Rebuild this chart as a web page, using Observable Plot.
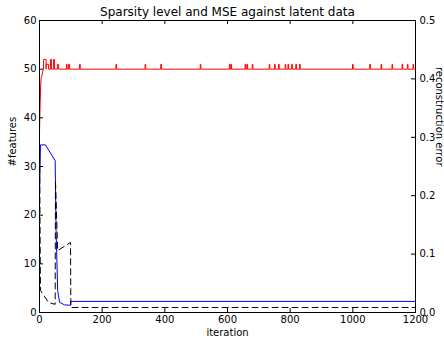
<!DOCTYPE html>
<html><head><meta charset="utf-8">
<script src="https://cdn.jsdelivr.net/npm/d3@7"></script>
<script src="https://cdn.jsdelivr.net/npm/@observablehq/plot@0.6"></script>
<style>html,body{margin:0;padding:0;background:#fff;overflow:hidden} svg{font-family:"DejaVu Sans",sans-serif}</style>
</head><body><div id="chart"></div><script>
// ---- data ----
const title = "Sparsity level and MSE against latent data";
const xLabel = "iteration";
const yLabelLeft = "#features";
const yLabelRight = "reconstruction error";
const xTicks = [0, 200, 400, 600, 800, 1000, 1200];
const yTicksLeft = [0, 10, 20, 30, 40, 50, 60];
const yTicksRight = [0.0, 0.1, 0.2, 0.3, 0.4, 0.5];

// red: #features (left axis) — initial ramp, base level, then spikes [start, end, value]
const redRampIter = [0, 2, 4, 5, 9, 12];
const redRampVal  = [37, 43, 47, 48, 49, 50];
const redBase = 50;
const redSpikes = [
  [13,21,52],[21,29,51],[35,38,52],[45,48,52],[57,61,51],[86,88,51],[93,96,51],[128,130,51],
  [244,246,51],[337,339,51],[387,389,51],[513,515,51],[606,608,51],[611,613,51],[656,658,51],
  [662,664,51],[679,681,51],[733,735,51],[750,752,51],[763,765,51],[784,786,51],[793,795,51],
  [805,807,51],[818,820,51],[830,832,51],[999,1001,51],[1054,1056,51],[1090,1092,51],
  [1125,1127,51],[1157,1159,51],[1174,1176,51],[1192,1194,51]
];
const redEnd = 1200;

// blue (right axis, reconstruction error)
const blueIter = [0, 3, 19, 50, 53, 58, 64, 80, 99, 100, 1200];
const blueVal  = [0.20, 0.287, 0.287, 0.26, 0.14, 0.0375, 0.0175, 0.013, 0.0125, 0.019, 0.019];

// black dashed (right axis, reconstruction error)
const dashIter = [0, 3, 29, 50, 51, 58, 99, 100, 1200];
const dashVal  = [0.30, 0.038, 0.017, 0.014, 0.226, 0.106, 0.12, 0.0086, 0.0086];

// ---- build tables ----
const redPts = redRampIter.map((i, k) => ({i, v: redRampVal[k]}));
for (const [s, e, v] of redSpikes) {
  redPts.push({i: s, v: redBase}, {i: s, v}, {i: e, v}, {i: e, v: redBase});
}
redPts.push({i: redEnd, v: redBase});
const bluePts = blueIter.map((i, k) => ({i, v: blueVal[k]}));
const dashPts = dashIter.map((i, k) => ({i, v: dashVal[k]}));

const leftMax = 60, rightMax = 0.5, k = leftMax / rightMax;
const W = 444, H = 339, mL = 39, mR = 29, mT = 20, mB = 27;
const pw = W - mL - mR, ph = H - mT - mB;

const chart = Plot.plot({
  width: W, height: H,
  marginLeft: mL, marginRight: mR, marginTop: mT, marginBottom: mB,
  style: {fontFamily: "DejaVu Sans, sans-serif", fontSize: "10px", color: "#000", background: "#fff", overflow: "visible"},
  x: {domain: [0, 1200]},
  y: {domain: [0, leftMax]},
  marks: [
    Plot.line(redPts, {x: "i", y: "v", stroke: "#ff0000", strokeWidth: 1}),
    Plot.line(bluePts, {x: "i", y: d => d.v * k, stroke: "#0000ff", strokeWidth: 1}),
    Plot.line(dashPts, {x: "i", y: d => d.v * k, stroke: "#000", strokeWidth: 1, strokeDasharray: "6,4"}),
    Plot.frame({stroke: "#000", strokeWidth: 1}),
    Plot.tickX(xTicks, {x: d => d, insetTop: ph - 4, stroke: "#000"}),
    Plot.tickX(xTicks, {x: d => d, insetBottom: ph - 4, stroke: "#000"}),
    Plot.tickY(yTicksLeft, {y: d => d, insetRight: pw - 4, stroke: "#000"}),
    Plot.tickY(yTicksRight, {y: d => d * k, insetLeft: pw - 4, stroke: "#000"}),
    Plot.axisX(xTicks, {tickSize: 0, tickPadding: 3, label: null, fontSize: 10, tickFormat: d => String(d)}),
    Plot.axisY(yTicksLeft, {anchor: "left", tickSize: 0, tickPadding: 3, label: null, fontSize: 10}),
    Plot.axisY(yTicksRight.map(d => d * k), {anchor: "right", tickSize: 0, tickPadding: 4, label: null, fontSize: 10,
      tickFormat: d => (d / k).toFixed(1)}),
    Plot.text([title], {frameAnchor: "top", lineAnchor: "middle", dy: -8, fontSize: 12, fill: "#000"}),
    Plot.text([xLabel], {frameAnchor: "bottom", lineAnchor: "middle", dy: 20, fontSize: 10, fill: "#000"}),
    Plot.text([yLabelLeft], {frameAnchor: "left", lineAnchor: "middle", dx: -27, rotate: -90, fontSize: 10, fill: "#000"}),
    Plot.text([yLabelRight], {frameAnchor: "right", lineAnchor: "middle", dx: 24, rotate: 90, fontSize: 10, fill: "#000"})
  ]
});
document.getElementById("chart").appendChild(chart);
</script></body></html>
